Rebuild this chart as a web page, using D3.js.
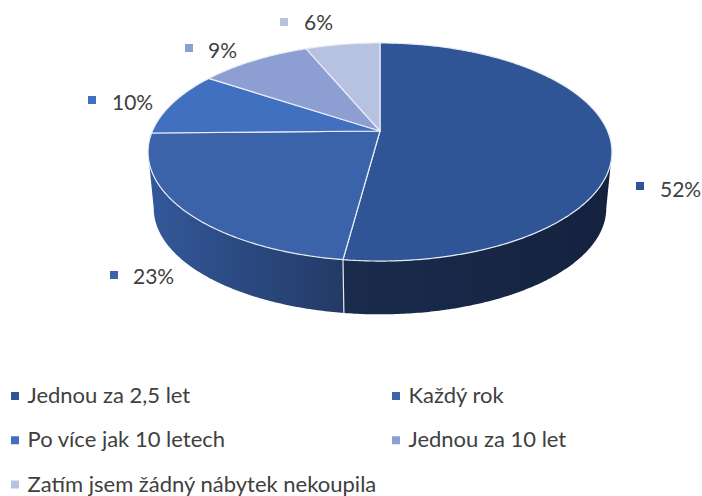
<!DOCTYPE html>
<html>
<head>
<meta charset="utf-8">
<script src="https://cdn.jsdelivr.net/npm/d3@7"></script>
<style>
html, body { margin: 0; padding: 0; background: #fff; }
svg { display: block; }
text { font-family: Lato, "Open Sans", sans-serif; fill: #404040; }
</style>
</head>
<body>
<script>
// data
var categories = ["Jednou za 2,5 let", "Každý rok", "Po více jak 10 letech", "Jednou za 10 let", "Zatím jsem žádný nábytek nekoupila"]
var shares = [52.1, 22.6, 9.65, 9.4, 6.25]
var colors = ["#2f5597", "#3b63a9", "#4270c0", "#8d9fd2", "#b7c1e0"]

var width = 702, height = 496

// fake 3d: the disc is a circle seen in perspective
var persp = 0.1927
var topDisc = {cx: 380, cy: 131, rx: 227.6, ry: 105}
var botDisc = {cx: 380, cy: 188, rx: 222, ry: 102}

function project(disc, a) {
    var u = Math.sin(a), v = -Math.cos(a), w = 1 - persp * v
    return [disc.cx + disc.rx * u / w, disc.cy + disc.ry * v / w]
}
function arcPoints(disc, a0, a1) {
    var n = Math.max(2, Math.ceil(Math.abs(a1 - a0) / 0.01))
    return d3.range(n + 1).map(function (i) { return project(disc, a0 + (a1 - a0) * i / n) })
}

var line = d3.line()
var pie = d3.pie().sort(null)
var slices = pie(shares)
var fmt = function (d) { return d3.format(".0f")(d) + "%" }

var svg = d3.select("body").append("svg").attr("width", width).attr("height", height)

// side wall gradients, one per visible slice
var defs = svg.append("defs")
var sideGrads = [
    {id: "side0", x1: 344, x2: 612, stops: ["#1a2b4d", "#14223e"]},
    {id: "side1", x1: 148, x2: 344, stops: ["#33589a", "#233a66"]}
]
sideGrads.forEach(function (g) {
    var lg = defs.append("linearGradient").attr("id", g.id)
        .attr("gradientUnits", "userSpaceOnUse")
        .attr("x1", g.x1).attr("x2", g.x2).attr("y1", 0).attr("y2", 0)
    lg.append("stop").attr("offset", 0).attr("stop-color", g.stops[0])
    lg.append("stop").attr("offset", 1).attr("stop-color", g.stops[1])
})

// front walls: only the part facing us, silhouette is where the disc is widest
var frontStart = Math.acos(-persp), frontEnd = 2 * Math.PI - frontStart
slices.slice(0, 2).forEach(function (s, i) {
    var a0 = Math.max(s.startAngle, frontStart), a1 = Math.min(s.endAngle, frontEnd)
    var pts = arcPoints(topDisc, a0, a1).concat(arcPoints(botDisc, a1, a0))
    svg.append("path").attr("d", line(pts) + "Z").attr("fill", "url(#side" + i + ")")
})
// seam between the two walls
var seam = slices[0].endAngle
svg.append("path").attr("d", line([project(topDisc, seam), project(botDisc, seam)]))
    .attr("stroke", "#e4e8f0").attr("stroke-width", 1.2).attr("fill", "none")

// top of the disc
svg.selectAll("path.top").data(slices).enter().append("path")
    .attr("class", "top")
    .attr("d", function (d) {
        return line([[topDisc.cx, topDisc.cy]].concat(arcPoints(topDisc, d.startAngle, d.endAngle))) + "Z"
    })
    .attr("fill", function (d, i) { return colors[i] })
    .attr("stroke", "#e8ecf4").attr("stroke-width", 1.2).attr("stroke-linejoin", "round")

// data labels with their little square keys
var labelPos = [[660, 197], [133, 284], [112, 110], [208, 58], [304, 30]]
var keyPos = [[640, 186], [114, 275], [92, 100], [189, 48], [284, 22]]
var keySize = 8

svg.selectAll("rect.dkey").data(shares).enter().append("rect")
    .attr("class", "dkey")
    .attr("x", function (d, i) { return keyPos[i][0] - keySize / 2 })
    .attr("y", function (d, i) { return keyPos[i][1] - keySize / 2 })
    .attr("width", keySize).attr("height", keySize)
    .attr("fill", function (d, i) { return colors[i] })

svg.selectAll("text.dlabel").data(shares).enter().append("text")
    .attr("class", "dlabel")
    .attr("x", function (d, i) { return labelPos[i][0] })
    .attr("y", function (d, i) { return labelPos[i][1] })
    .attr("font-size", 21)
    .text(fmt)

// legend, last row sits a bit high so the descenders stay in the picture
var legendX = d3.scaleOrdinal().domain([0, 1]).range([15, 396])
var legendY = d3.scaleLinear().domain([0, 2]).range([396, 484.5])

var legend = svg.selectAll("g.legend").data(categories).enter().append("g")
    .attr("class", "legend")
    .attr("transform", function (d, i) {
        return "translate(" + legendX(i % 2) + "," + legendY(Math.floor(i / 2)) + ")"
    })
legend.append("rect")
    .attr("x", -keySize / 2).attr("y", -keySize / 2)
    .attr("width", keySize).attr("height", keySize)
    .attr("fill", function (d, i) { return colors[i] })
legend.append("text")
    .attr("x", 12.5).attr("y", 7)
    .attr("font-size", 22)
    .text(function (d) { return d })
</script>
</body>
</html>
